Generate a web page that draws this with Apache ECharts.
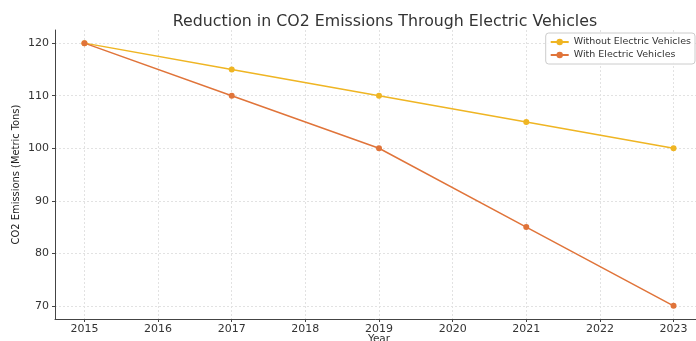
<!DOCTYPE html>
<html><head><meta charset="utf-8">
<script src="https://cdn.jsdelivr.net/npm/echarts@6/dist/echarts.min.js"></script>
<style>html,body{margin:0;padding:0;background:#fff}#c{width:696px;height:341px}</style>
</head><body><div id="c"></div>
<script>
const years = [2015, 2017, 2019, 2021, 2023];
const withoutEV = [120, 115, 110, 105, 100];
const withEV = [120, 110, 100, 85, 70];
const xTicks = [2015, 2016, 2017, 2018, 2019, 2020, 2021, 2022, 2023];
const yTicks = [70, 80, 90, 100, 110, 120];

const chart = echarts.init(document.getElementById('c'));
const font = 'DejaVu Sans';
chart.setOption({
  animation: false,
  backgroundColor: '#fff',
  title: {
    text: 'Reduction in CO2 Emissions Through Electric Vehicles',
    left: 380, top: 9, textAlign: 'center',
    textStyle: { fontFamily: font, fontSize: 15.8, fontWeight: 'normal', color: '#333' }
  },
  legend: {
    right: 1, top: 33, orient: 'vertical', itemGap: 3,
    itemWidth: 18, itemHeight: 8,
    padding: [4, 4, 4, 4],
    borderColor: '#ccc', borderWidth: 1, borderRadius: 3,
    backgroundColor: 'rgba(255,255,255,0.85)',
    textStyle: { fontFamily: font, fontSize: 9.5, color: '#333' },
    data: ['Without Electric Vehicles', 'With Electric Vehicles']
  },
  grid: { left: 55, right: -7, top: 30, bottom: 22, containLabel: false, outerBoundsMode: 'none' },
  xAxis: {
    type: 'value', min: 2014.6, max: 2023.4,
    name: 'Year', nameLocation: 'middle', nameGap: 15, nameMoveOverlap: false,
    nameTextStyle: { fontFamily: font, fontSize: 10.5, color: '#333', verticalAlign: 'top' },
    axisLine: { show: true, lineStyle: { color: '#444', width: 1 } },
    axisTick: { show: true, length: 3, lineStyle: { color: '#444' }, customValues: xTicks },
    axisLabel: { fontFamily: font, fontSize: 11, color: '#333', margin: 5, customValues: xTicks, formatter: v => String(v) },
    splitLine: { show: true, lineStyle: { color: '#e2e2e2', type: [2, 2] } }
  },
  yAxis: {
    type: 'value', min: 67.5, max: 122.5,
    name: 'CO2 Emissions (Metric Tons)', nameLocation: 'middle', nameGap: 33, nameMoveOverlap: false,
    nameTextStyle: { fontFamily: 'DejaVu Sans Condensed', fontSize: 11, color: '#222' },
    axisLine: { show: true, lineStyle: { color: '#444', width: 1 } },
    axisTick: { show: true, length: 3, lineStyle: { color: '#444' }, customValues: yTicks },
    axisLabel: { fontFamily: font, fontSize: 11, color: '#333', margin: 6, customValues: yTicks, formatter: v => String(v) },
    splitLine: { show: true, lineStyle: { color: '#e2e2e2', type: [2, 2] } }
  },
  series: [
    {
      name: 'Without Electric Vehicles', type: 'line',
      data: years.map((y, i) => [y, withoutEV[i]]),
      color: '#efb523', symbol: 'circle', symbolSize: 6,
      lineStyle: { width: 1.5 }
    },
    {
      name: 'With Electric Vehicles', type: 'line',
      data: years.map((y, i) => [y, withEV[i]]),
      color: '#e0743a', symbol: 'circle', symbolSize: 6,
      lineStyle: { width: 1.5 }
    }
  ]
});
</script></body></html>
